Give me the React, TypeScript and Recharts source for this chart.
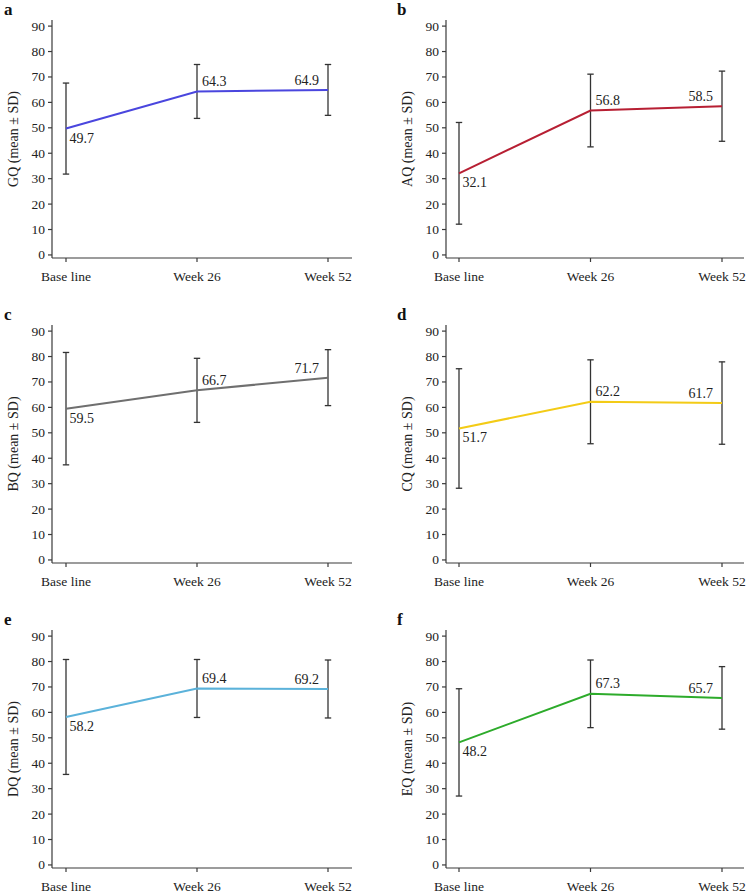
import React from 'react';
import { LineChart, Line, XAxis, YAxis, ErrorBar, LabelList } from 'recharts';

const categories = ['Base line', 'Week 26', 'Week 52'];
const yTicks = [0, 10, 20, 30, 40, 50, 60, 70, 80, 90];

const gqMean = [49.7, 64.3, 64.9];
const gqSd = [17.9, 10.6, 10.0];
const aqMean = [32.1, 56.8, 58.5];
const aqSd = [20.0, 14.3, 13.8];
const bqMean = [59.5, 66.7, 71.7];
const bqSd = [22.1, 12.6, 11.0];
const cqMean = [51.7, 62.2, 61.7];
const cqSd = [23.5, 16.5, 16.2];
const dqMean = [58.2, 69.4, 69.2];
const dqSd = [22.6, 11.4, 11.4];
const eqMean = [48.2, 67.3, 65.7];
const eqSd = [21.1, 13.3, 12.3];

const FONT = "'Liberation Serif', 'Times New Roman', serif";
const AXIS = '#3a3a3a';
const TEXT = '#222';

type PanelProps = {
  letter: string;
  yLabel: string;
  mean: number[];
  sd: number[];
  color: string;
  left: number;
  top: number;
  right: boolean;
};

const XTick = (props: any) => {
  const { x, y, payload } = props;
  return (
    <text x={x} y={y + 13} textAnchor="middle" fontSize={13.5} fontFamily={FONT} fill={TEXT}>
      {payload.value}
    </text>
  );
};

const YTick = (props: any) => {
  const { x, y, payload } = props;
  return (
    <text x={x} y={y + 4.5} textAnchor="end" fontSize={13.5} fontFamily={FONT} fill={TEXT}>
      {payload.value}
    </text>
  );
};

function Panel({ letter, yLabel, mean, sd, color, left, top, right }: PanelProps) {
  const data = categories.map((c, i) => ({ cat: c, mean: mean[i], sd: sd[i] }));
  const plotW = right ? 298 : 300;
  const pad = right ? { left: 13, right: 22 } : { left: 14, right: 24 };
  const yAxisW = 52;
  const width = yAxisW + plotW + 10;
  const height = 290;

  const renderValue = (props: any) => {
    const { x, y, value, index } = props;
    let tx = x + 3.5;
    let ty = y + 14;
    let anchor: 'start' | 'end' = 'start';
    if (index === 1) {
      tx = x + 5;
      ty = y - 5.5;
    } else if (index === 2) {
      tx = x - 9;
      ty = y - 5;
      anchor = 'end';
    }
    return (
      <text x={tx} y={ty} textAnchor={anchor} fontSize={14} fontFamily={FONT} fill={TEXT}>
        {Number(value).toFixed(1)}
      </text>
    );
  };

  const renderYLabel = () => (
    <text
      x={0}
      y={0}
      transform={`translate(17.5, 139) rotate(-90)`}
      textAnchor="middle"
      fontSize={14}
      fontFamily={FONT}
      fill={TEXT}
    >
      {yLabel}
    </text>
  );

  return (
    <div style={{ position: 'absolute', left, top, width, height }}>
      <svg style={{ position: 'absolute', left: 0, top: 0, overflow: 'visible' }} width={20} height={20}>
        <text x={right ? 3 : 4} y={15} fontSize={17} fontWeight="bold" fontFamily={FONT} fill="#111">
          {letter}
        </text>
      </svg>
      <LineChart width={width} height={height} data={data} margin={{ top: 20, right: 10, bottom: 0, left: 0 }}>
        <XAxis
          dataKey="cat"
          type="category"
          interval={0}
          padding={pad}
          tickSize={4}
          tickMargin={6}
          height={32}
          axisLine={{ stroke: AXIS, strokeWidth: 1.2 }}
          tickLine={{ stroke: AXIS, strokeWidth: 1.2 }}
          tick={<XTick />}
        />
        <YAxis
          type="number"
          domain={[-1.2, 92.4]}
          ticks={yTicks}
          interval={0}
          width={yAxisW}
          tickSize={4}
          tickMargin={3}
          axisLine={{ stroke: AXIS, strokeWidth: 1.2 }}
          tickLine={{ stroke: AXIS, strokeWidth: 1.2 }}
          tick={<YTick />}
          label={{ content: renderYLabel }}
        />
        <Line
          type="linear"
          dataKey="mean"
          stroke={color}
          strokeWidth={2}
          dot={false}
          activeDot={false}
          isAnimationActive={false}
        >
          <ErrorBar dataKey="sd" width={3.2} stroke="#333" strokeWidth={1.3} direction="y" isAnimationActive={false} />
          <LabelList dataKey="mean" content={renderValue} />
        </Line>
      </LineChart>
    </div>
  );
}

const panels: PanelProps[] = [
  { letter: 'a', yLabel: 'GQ (mean ± SD)', mean: gqMean, sd: gqSd, color: '#4a46de', left: 0, top: 0, right: false },
  { letter: 'b', yLabel: 'AQ (mean ± SD)', mean: aqMean, sd: aqSd, color: '#b71f33', left: 394, top: 0, right: true },
  { letter: 'c', yLabel: 'BQ (mean ± SD)', mean: bqMean, sd: bqSd, color: '#6f6f6f', left: 0, top: 305, right: false },
  { letter: 'd', yLabel: 'CQ (mean ± SD)', mean: cqMean, sd: cqSd, color: '#f3cb16', left: 394, top: 305, right: true },
  { letter: 'e', yLabel: 'DQ (mean ± SD)', mean: dqMean, sd: dqSd, color: '#5bb2da', left: 0, top: 610, right: false },
  { letter: 'f', yLabel: 'EQ (mean ± SD)', mean: eqMean, sd: eqSd, color: '#2dab2b', left: 394, top: 610, right: true },
];

export default function App() {
  return (
    <div
      style={{
        position: 'absolute',
        left: 0,
        top: 0,
        width: 749,
        height: 893,
        background: '#fff',
        overflow: 'hidden',
      }}
    >
      {panels.map((p) => (
        <Panel key={p.letter} {...p} />
      ))}
    </div>
  );
}
